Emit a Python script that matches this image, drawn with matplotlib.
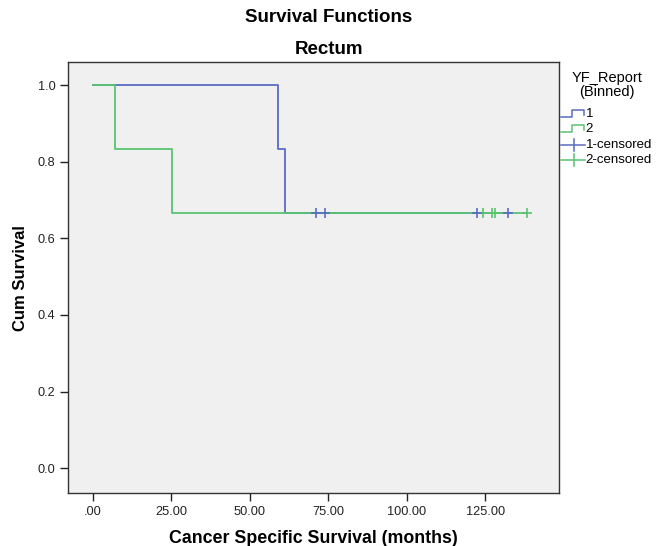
import numpy as np
import matplotlib.pyplot as plt
from matplotlib.lines import Line2D

plt.rcParams['font.family'] = ['Liberation Sans', 'DejaVu Sans']

# group 1 (blue) and group 2 (green): event times, survival after, censored times
g1_times = [0, 59.0, 61.1]
g1_surv = [1.0, 0.8333, 0.6667]
g1_end = 132.3
g1_cens = [71.2, 74.1, 122.4, 132.3]

g2_times = [0, 7.0, 25.1]
g2_surv = [1.0, 0.8333, 0.6667]
g2_end = 138.3
g2_cens = [124.3, 127.3, 128.3, 138.3]

xticks = [0, 25, 50, 75, 100, 125]
xticklabels = [".00", "25.00", "50.00", "75.00", "100.00", "125.00"]
yticks = [0.0, 0.2, 0.4, 0.6, 0.8, 1.0]

blue = "#5a6cc2"
green = "#58c470"

fig = plt.figure(figsize=(6.57, 5.46), dpi=100)
ax = fig.add_axes([0.1035, 0.097, 0.7475, 0.789])
ax.set_facecolor("#f0f0f0")

def steps(times, surv, end):
    x = list(times) + [end]
    y = list(surv) + [surv[-1]]
    return x, y

x1, y1 = steps(g1_times, g1_surv, g1_end)
ax.step(x1, y1, where="post", color=blue, lw=1.3)
x2, y2 = steps(g2_times, g2_surv, g2_end)
ax.step(x2, y2, where="post", color=green, lw=1.3)

ax.plot(g2_cens, [g2_surv[-1]] * len(g2_cens), "+", color=green, ms=7, mew=1.2)
ax.plot(g1_cens, [g1_surv[-1]] * len(g1_cens), "+", color=blue, ms=7, mew=1.2)

ax.set_xlim(-8, 148.6)
ax.set_ylim(-0.065, 1.06)
ax.set_xticks(xticks)
ax.set_xticklabels(xticklabels)
ax.set_yticks(yticks)
ax.set_yticklabels(["%.1f" % v for v in yticks])
ax.tick_params(direction="out", length=6, width=1, labelsize=9.2, colors="#222222",
               top=False, right=False, pad=3)
for s in ax.spines.values():
    s.set_color("#333333")
    s.set_linewidth(1)

ax.set_xlabel("Cancer Specific Survival (months)", fontsize=12.8, fontweight="bold", labelpad=9)
ax.set_ylabel("Cum Survival", fontsize=12, fontweight="bold", labelpad=7)

fig.text(0.5, 1 - 18 / 546, "Survival Functions", ha="center", va="center", fontsize=13.5, fontweight="bold")
fig.text(0.5, 1 - 50 / 546, "Rectum", ha="center", va="center", fontsize=13.5, fontweight="bold")

# legend
fig.text(607 / 657, 1 - 85 / 546, "YF_Report\n(Binned)", ha="center", va="center", fontsize=10.5,
         linespacing=0.95)

def fx(px):
    return px / 657

def fy(py):
    return 1 - py / 546

for py, col in [(114, blue), (129, green)]:
    fig.add_artist(Line2D([fx(561), fx(572), fx(572), fx(584), fx(584)],
                          [fy(py + 3), fy(py + 3), fy(py - 4), fy(py - 4), fy(py + 1)],
                          color=col, lw=1.1))
for py, col in [(145, blue), (160, green)]:
    fig.add_artist(Line2D([fx(561), fx(585)], [fy(py), fy(py)], color=col, lw=1.1))
    fig.add_artist(Line2D([fx(574), fx(574)], [fy(py - 6), fy(py + 6)], color=col, lw=1.1))

for py, lab in [(114, "1"), (129, "2"), (145, "1-censored"), (160, "2-censored")]:
    fig.text(fx(585.5), fy(py), lab, ha="left", va="center", fontsize=9.5)

plt.savefig("out.png", dpi=100)
